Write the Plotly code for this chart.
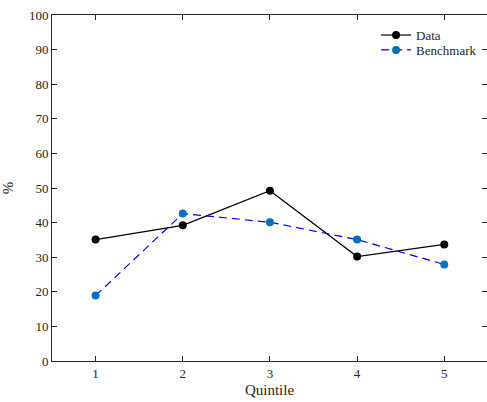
import plotly.graph_objects as go

quintiles = [1, 2, 3, 4, 5]
data_vals = [35.1, 39.2, 49.2, 30.2, 33.7]
bench_vals = [18.9, 42.6, 40.1, 35.1, 27.9]

FONT = "Liberation Serif"
AX = "#262626"

fig = go.Figure()
fig.add_trace(go.Scatter(
    x=quintiles, y=data_vals, name="Data", mode="lines+markers",
    line=dict(color="black", width=1.2),
    marker=dict(color="black", size=8),
    legend="legend",
))
fig.add_trace(go.Scatter(
    x=quintiles, y=bench_vals, name="Benchmark", mode="lines+markers",
    line=dict(color="#0000FF", width=1.2, dash="8px,5px"),
    marker=dict(color="#0072BD", size=8),
    legend="legend2",
))

axis_common = dict(
    showline=True, linecolor=AX, linewidth=1, mirror="ticks",
    ticks="inside", ticklen=5, tickcolor=AX, tickwidth=1,
    showgrid=False, zeroline=False, ticklabeloverflow="allow",
    tickfont=dict(family=FONT, size=13, color=AX),
)
fig.update_xaxes(range=[0.5, 5.49], tickvals=quintiles,
                 title=dict(text="Quintile", font=dict(family=FONT, size=15, color=AX), standoff=4),
                 **axis_common)
fig.update_yaxes(range=[0, 100], tickvals=list(range(0, 101, 10)),
                 title=dict(text="%", font=dict(family=FONT, size=15, color=AX), standoff=16),
                 **axis_common)

leg_common = dict(xanchor="left", yanchor="middle",
                  bgcolor="rgba(255,255,255,0)", borderwidth=0,
                  font=dict(family=FONT, size=13, color=AX), itemwidth=30)
fig.update_layout(
    width=487, height=402,
    margin=dict(l=52, r=0, t=15, b=41),
    plot_bgcolor="white", paper_bgcolor="white",
    font=dict(family=FONT, color=AX),
    legend=dict(x=0.745, y=0.942, **leg_common),
    legend2=dict(x=0.745, y=0.899, **leg_common),
    showlegend=True,
)

fig.write_html(
    "out.html",
    config={"displayModeBar": False},
    post_script="document.body.style.margin='0';document.body.style.overflow='hidden';",
)
